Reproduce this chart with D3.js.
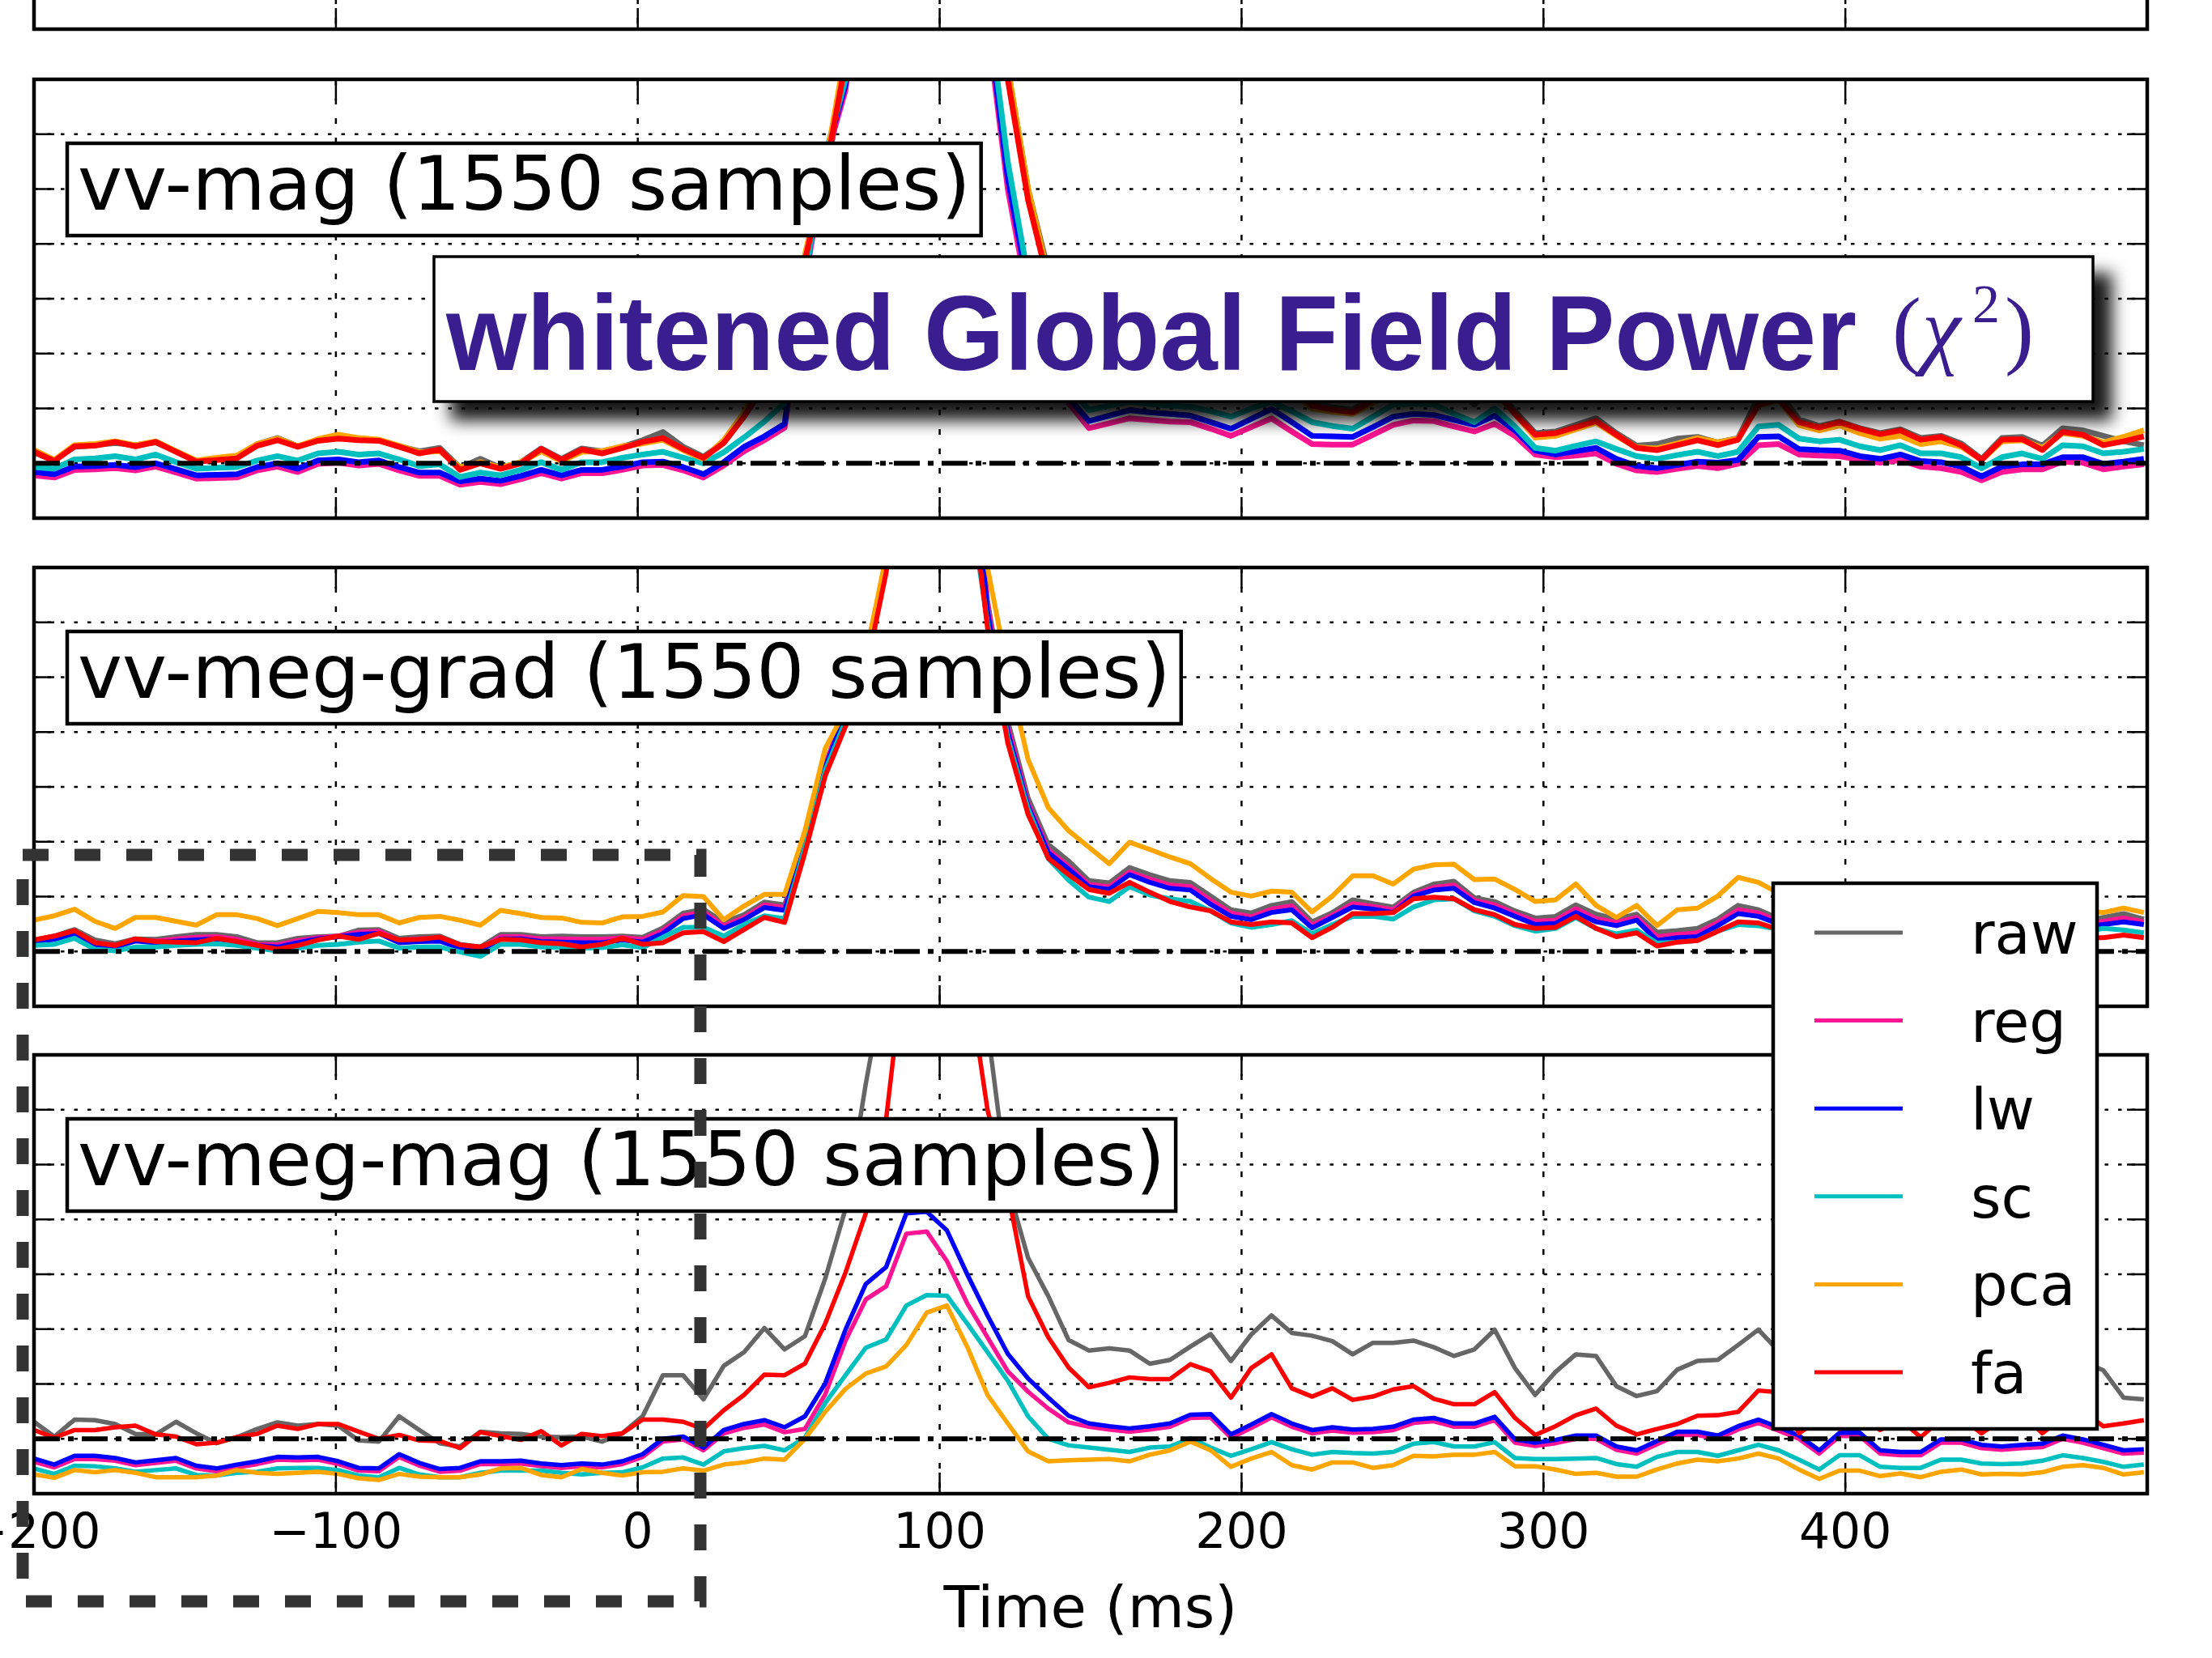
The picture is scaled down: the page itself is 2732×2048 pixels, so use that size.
<!DOCTYPE html>
<html>
<head>
<meta charset="utf-8">
<script src="https://cdn.jsdelivr.net/npm/d3@7"></script>
<style>
  html, body { margin: 0; padding: 0; background: #fff; }
  svg { display: block; }
</style>
</head>
<body>
<div id="chart"></div>
<script>
var width = 2732;
var height = 2048;

// sampling grid of the evoked data (ms)
var times = d3.range(105).map(function (k) { return -200 + k * 6.72; });

var methods = ["raw", "reg", "lw", "sc", "pca", "fa"];
var methodColors = ["#666666", "#ff1493", "#0000ff", "#00bfbf", "#ffa500", "#ff0000"];
var xTicks = [-200, -100, 0, 100, 200, 300, 400];
var xTickLabels = ["\u2212200", "\u2212100", "0", "100", "200", "300", "400"];
var yTicks = [0, 1, 2, 3, 4, 5, 6, 7, 8];
var panelNames = ["vv-mag (1550 samples)", "vv-meg-grad (1550 samples)", "vv-meg-mag (1550 samples)"];
var titleText = "whitened Global Field Power";

// vv-mag
var magRaw = [1.20,1.05,1.30,1.33,1.37,1.33,1.38,1.22,1.04,1.07, 1.10,1.35,1.46,1.31,1.42,1.46,1.43,1.42,1.31,1.22,
  1.28,0.92,1.08,0.92,1.02,1.27,1.08,1.27,1.22,1.30, 1.42,1.57,1.30,1.12,1.38,1.85,2.4,3.3,4.6,6.2,
  8.2,11,14,17,19,19,17,10.8,8.2,6.0, 4.5,3.4,2.55,2.65,2.75,2.7,2.65,2.65,2.5,2.4,
  2.55,2.7,2.4,2.1,2.02,1.98,2.2,2.4,2.5,2.5, 2.4,2.07,2.4,1.95,1.55,1.58,1.70,1.82,1.55,1.32,
  1.35,1.45,1.48,1.38,1.46,2.2,2.3,1.8,1.68,1.76, 1.64,1.55,1.62,1.46,1.50,1.36,1.08,1.46,1.48,1.32,
  1.64,1.60,1.50,1.40,1.33];
var magReg = [0.78,0.74,0.88,0.89,0.91,0.87,0.94,0.83,0.72,0.73, 0.74,0.87,0.94,0.84,0.99,1.01,0.96,0.99,0.87,0.77,
  0.77,0.61,0.66,0.62,0.71,0.82,0.72,0.82,0.82,0.88, 0.96,0.97,0.87,0.74,0.96,1.22,1.42,1.65,4.3,6.5,
  7.8,11,14,17,19,19,17,9.0,6.0,4.0, 2.9,2.1,1.64,1.73,1.82,1.79,1.76,1.75,1.63,1.50,
  1.66,1.82,1.58,1.35,1.34,1.34,1.52,1.70,1.78,1.77, 1.67,1.58,1.72,1.50,1.16,1.11,1.14,1.18,0.99,0.87,
  0.84,0.90,0.95,0.91,0.99,1.33,1.35,1.16,1.14,1.13, 1.06,1.01,1.06,0.94,0.91,0.84,0.69,0.84,0.89,0.89,
  1.03,1.01,0.89,0.94,0.98];
var magLw = [0.84,0.80,0.94,0.95,0.97,0.93,1.00,0.89,0.78,0.79, 0.80,0.93,1.00,0.90,1.05,1.07,1.02,1.05,0.93,0.83,
  0.83,0.67,0.72,0.68,0.77,0.88,0.78,0.88,0.88,0.94, 1.02,1.03,0.93,0.80,1.02,1.30,1.49,1.72,4.4,6.6,
  7.9,11,14,17,19,19,17,9.2,6.2,4.2, 3.0,2.2,1.77,1.87,1.97,1.93,1.90,1.87,1.75,1.63,
  1.81,1.99,1.75,1.50,1.49,1.48,1.66,1.85,1.90,1.88, 1.79,1.70,1.87,1.60,1.23,1.16,1.22,1.28,1.08,0.95,
  0.91,0.97,1.03,1.01,1.06,1.48,1.49,1.26,1.24,1.23, 1.13,1.08,1.16,1.04,1.02,0.94,0.76,0.94,0.98,0.98,
  1.11,1.11,0.99,1.03,1.08];
var magSc = [0.93,0.90,1.07,1.09,1.13,1.07,1.16,1.02,0.90,0.92, 0.93,1.05,1.13,1.05,1.18,1.21,1.16,1.18,1.07,0.95,
  0.98,0.75,0.83,0.78,0.88,1.02,0.88,1.02,1.02,1.10, 1.16,1.21,1.10,1.00,1.20,1.47,1.76,2.1,4.4,6.6,
  8.0,11,14,17,19,19,17,9.4,6.5,4.4, 3.2,2.4,1.97,2.05,2.12,2.08,2.05,2.03,1.95,1.85,
  2.0,2.12,1.95,1.75,1.68,1.63,1.85,2.07,2.09,2.07, 1.9,1.75,2.0,1.67,1.28,1.23,1.32,1.40,1.26,1.13,
  1.08,1.15,1.21,1.13,1.21,1.67,1.70,1.45,1.40,1.43, 1.31,1.24,1.33,1.18,1.18,1.11,0.91,1.11,1.18,1.08,
  1.33,1.31,1.18,1.21,1.26];
var magPca = [1.24,1.06,1.33,1.35,1.40,1.33,1.40,1.22,1.05,1.10, 1.14,1.35,1.45,1.31,1.44,1.52,1.46,1.43,1.32,1.20,
  1.22,0.92,1.02,0.92,1.02,1.22,1.04,1.21,1.22,1.31, 1.36,1.43,1.24,1.08,1.42,1.92,2.55,3.5,4.8,6.4,
  8.5,11,14,17,19,19,17,11,8.2,6.0, 4.4,3.3,2.55,2.6,2.7,2.65,2.6,2.6,2.45,2.35,
  2.5,2.6,2.3,2.0,1.94,1.90,2.1,2.3,2.4,2.4, 2.3,2.15,2.3,1.9,1.47,1.50,1.62,1.74,1.50,1.29,
  1.27,1.36,1.46,1.38,1.45,2.05,2.15,1.70,1.60,1.69, 1.55,1.45,1.50,1.35,1.40,1.30,1.06,1.40,1.42,1.28,
  1.55,1.50,1.38,1.48,1.60];
var magFa = [1.21,1.04,1.31,1.32,1.39,1.31,1.39,1.21,1.03,1.06, 1.09,1.32,1.42,1.30,1.41,1.45,1.42,1.41,1.30,1.18,
  1.25,0.88,1.00,0.90,1.00,1.26,1.06,1.25,1.18,1.28, 1.39,1.46,1.26,1.10,1.37,1.85,2.45,3.4,4.7,6.3,
  8.3,11,14,17,19,19,17,10.5,8.0,5.8, 4.3,3.2,2.5,2.6,2.7,2.65,2.6,2.6,2.45,2.35,
  2.5,2.65,2.35,2.05,1.98,1.93,2.15,2.35,2.45,2.45, 2.35,2.2,2.35,1.9,1.52,1.55,1.66,1.77,1.52,1.28,
  1.24,1.33,1.42,1.33,1.43,2.07,2.17,1.75,1.65,1.75, 1.63,1.53,1.60,1.43,1.48,1.33,1.06,1.43,1.44,1.24,
  1.57,1.52,1.33,1.40,1.49];

// vv-meg-grad
var gradRaw = [1.21,1.28,1.40,1.21,1.14,1.23,1.22,1.27,1.31,1.31, 1.27,1.16,1.16,1.24,1.27,1.28,1.39,1.40,1.24,1.27,
  1.28,1.13,1.08,1.31,1.31,1.27,1.28,1.27,1.27,1.28, 1.26,1.43,1.70,1.77,1.53,1.67,1.90,1.85,3.0,4.4,
  5.4,6.4,8.1,11,14,16,12,7.4,5.2,3.8, 2.95,2.65,2.29,2.25,2.53,2.40,2.29,2.26,2.01,1.76,
  1.70,1.84,1.91,1.54,1.71,1.94,1.87,1.81,2.08,2.23, 2.28,1.98,1.91,1.74,1.61,1.64,1.85,1.68,1.59,1.68,
  1.35,1.38,1.42,1.59,1.84,1.76,1.60,1.50,1.45,1.50, 1.45,1.48,1.55,1.45,1.40,1.52,1.50,1.45,1.55,1.60,
  1.58,1.55,1.62,1.69,1.59];
var gradReg = [1.18,1.25,1.36,1.16,1.11,1.21,1.19,1.23,1.26,1.27, 1.22,1.13,1.12,1.20,1.25,1.28,1.35,1.37,1.20,1.23,
  1.24,1.10,1.05,1.27,1.27,1.23,1.23,1.22,1.22,1.25, 1.22,1.38,1.65,1.72,1.47,1.62,1.85,1.80,3.0,4.4,
  5.4,6.4,8.1,11,14,16,11.5,7.3,5.1,3.7, 2.85,2.55,2.22,2.18,2.45,2.32,2.21,2.18,1.93,1.70,
  1.63,1.77,1.83,1.48,1.66,1.87,1.82,1.76,2.04,2.17, 2.21,1.93,1.85,1.69,1.55,1.57,1.78,1.60,1.53,1.62,
  1.27,1.31,1.34,1.53,1.76,1.70,1.55,1.45,1.40,1.45, 1.40,1.43,1.50,1.40,1.35,1.47,1.45,1.40,1.50,1.55,
  1.53,1.50,1.55,1.61,1.54];
var gradLw = [1.16,1.22,1.31,1.11,1.08,1.19,1.16,1.19,1.21,1.23, 1.17,1.11,1.08,1.16,1.23,1.27,1.31,1.33,1.16,1.18,
  1.19,1.06,1.01,1.23,1.23,1.18,1.17,1.16,1.16,1.21, 1.17,1.33,1.60,1.67,1.42,1.58,1.80,1.75,2.95,4.35,
  5.35,6.35,8.0,11,14,16,11.2,7.2,5.0,3.65, 2.8,2.5,2.18,2.13,2.40,2.26,2.15,2.12,1.86,1.64,
  1.58,1.71,1.76,1.43,1.62,1.81,1.77,1.71,2.01,2.12, 2.15,1.89,1.79,1.64,1.49,1.51,1.71,1.54,1.47,1.57,
  1.20,1.25,1.27,1.47,1.69,1.64,1.50,1.40,1.35,1.40, 1.35,1.38,1.45,1.35,1.30,1.42,1.40,1.35,1.45,1.50,
  1.48,1.45,1.49,1.54,1.49];
var gradSc = [1.11,1.13,1.24,1.04,1.01,1.08,1.08,1.11,1.13,1.14, 1.11,1.06,1.01,1.06,1.11,1.13,1.17,1.19,1.06,1.08,
  1.08,0.99,0.91,1.13,1.13,1.08,1.07,1.06,1.07,1.12, 1.07,1.26,1.44,1.44,1.28,1.49,1.65,1.60,2.9,4.3,
  5.2,6.3,8.0,11,14,15,9.5,7.0,4.9,3.6, 2.69,2.3,1.99,1.91,2.18,2.03,1.96,1.91,1.74,1.52,
  1.44,1.49,1.56,1.32,1.49,1.64,1.64,1.59,1.81,1.94, 1.96,1.74,1.64,1.47,1.37,1.42,1.62,1.42,1.32,1.39,
  1.15,1.17,1.20,1.37,1.49,1.47,1.40,1.30,1.25,1.30, 1.25,1.28,1.35,1.25,1.20,1.32,1.30,1.25,1.35,1.40,
  1.38,1.35,1.42,1.39,1.34];
var gradPca = [1.57,1.65,1.77,1.55,1.42,1.62,1.62,1.55,1.48,1.67, 1.67,1.60,1.47,1.60,1.73,1.71,1.67,1.67,1.52,1.62,
  1.64,1.57,1.48,1.75,1.69,1.62,1.61,1.53,1.52,1.63, 1.64,1.72,2.02,2.00,1.58,1.83,2.04,2.04,3.2,4.7,
  5.4,6.4,8.2,11,15,18,13,8.0,6.1,4.5, 3.62,3.2,2.9,2.6,2.99,2.86,2.72,2.60,2.33,2.08,
  2.01,2.10,2.08,1.72,2.01,2.38,2.38,2.23,2.50,2.58, 2.59,2.31,2.32,2.13,1.91,1.94,2.23,1.84,1.62,1.84,
  1.47,1.76,1.79,2.01,2.35,2.26,2.06,1.85,1.75,1.80, 1.70,1.75,1.82,1.70,1.65,1.78,1.75,1.70,1.80,1.85,
  1.80,1.75,1.71,1.79,1.71];
var gradFa = [1.21,1.28,1.38,1.16,1.11,1.23,1.18,1.17,1.16,1.24, 1.18,1.11,1.04,1.11,1.21,1.28,1.22,1.33,1.21,1.22,
  1.26,1.12,1.08,1.22,1.21,1.16,1.14,1.08,1.13,1.24, 1.13,1.16,1.34,1.36,1.18,1.40,1.62,1.53,2.8,4.2,
  5.1,6.1,7.9,10.5,13.5,15,10,6.9,4.8,3.5, 2.7,2.4,2.13,2.06,2.26,2.08,1.91,1.81,1.74,1.54,
  1.49,1.54,1.52,1.25,1.44,1.69,1.69,1.71,1.96,1.99, 1.96,1.76,1.67,1.49,1.42,1.44,1.64,1.42,1.27,1.34,
  1.10,1.17,1.20,1.37,1.54,1.52,1.40,1.30,1.25,1.30, 1.22,1.20,1.28,1.20,1.15,1.25,1.22,1.18,1.25,1.30,
  1.28,1.25,1.25,1.30,1.25];

// vv-meg-mag
var megmagRaw = [1.31,1.04,1.35,1.34,1.27,1.09,1.08,1.31,1.10,0.92, 1.03,1.18,1.30,1.24,1.27,1.24,0.97,0.95,1.41,1.16,
  0.92,0.86,1.13,1.10,1.09,1.04,1.03,1.04,0.95,1.10, 1.41,2.16,2.16,1.72,2.33,2.58,3.02,2.63,2.87,3.92,
  5.19,7.47,9.5,12,14,14,12,8.5,5.6,4.3, 3.6,2.8,2.61,2.65,2.61,2.37,2.44,2.68,2.91,2.42,
  2.90,3.25,2.93,2.88,2.78,2.54,2.75,2.75,2.79,2.67, 2.51,2.63,2.99,2.29,1.80,2.22,2.54,2.51,1.96,1.78,
  1.87,2.26,2.42,2.44,2.71,2.99,2.6,2.3,2.2,2.4, 2.5,2.3,2.2,2.5,2.4,2.6,2.3,2.2,2.5,2.6,
  2.5,2.4,2.25,1.75,1.72];
var megmagReg = [0.58,0.48,0.63,0.63,0.60,0.52,0.56,0.60,0.46,0.41, 0.48,0.54,0.62,0.61,0.62,0.54,0.42,0.41,0.67,0.51,
  0.40,0.42,0.54,0.54,0.55,0.50,0.47,0.50,0.48,0.54, 0.67,0.95,0.99,0.79,1.10,1.20,1.26,1.12,1.18,1.81,
  2.79,3.54,3.78,4.74,4.78,4.24,3.47,2.85,2.23,1.86, 1.55,1.30,1.22,1.17,1.13,1.17,1.22,1.38,1.39,1.02,
  1.20,1.39,1.22,1.10,1.15,1.11,1.12,1.16,1.29,1.32, 1.22,1.22,1.34,0.93,0.87,0.92,1.00,1.00,0.80,0.73,
  0.90,1.07,1.07,1.00,1.17,1.29,1.15,1.00,0.73,1.05, 1.05,0.73,0.70,0.70,0.93,0.93,0.83,0.80,0.83,0.85,
  1.00,0.93,0.83,0.73,0.75];
var megmagLw = [0.64,0.53,0.69,0.69,0.65,0.57,0.61,0.65,0.51,0.46, 0.53,0.59,0.67,0.66,0.67,0.59,0.47,0.46,0.72,0.56,
  0.45,0.47,0.59,0.59,0.60,0.55,0.52,0.55,0.53,0.59, 0.72,1.00,1.04,0.84,1.16,1.27,1.34,1.21,1.41,2.01,
  2.99,3.82,4.13,5.11,5.14,4.8,4.0,3.25,2.55,2.1, 1.75,1.42,1.28,1.23,1.19,1.23,1.28,1.44,1.45,1.08,
  1.26,1.45,1.28,1.16,1.21,1.17,1.18,1.22,1.35,1.38, 1.28,1.28,1.40,0.99,0.93,0.98,1.06,1.06,0.86,0.79,
  0.96,1.13,1.13,1.06,1.23,1.35,1.21,1.06,0.79,1.11, 1.11,0.79,0.76,0.76,0.99,0.99,0.89,0.86,0.89,0.91,
  1.06,0.99,0.89,0.79,0.81];
var megmagSc = [0.46,0.36,0.51,0.50,0.46,0.40,0.43,0.46,0.34,0.33, 0.38,0.40,0.46,0.47,0.47,0.43,0.33,0.30,0.47,0.35,
  0.30,0.30,0.38,0.42,0.42,0.42,0.38,0.35,0.38,0.39, 0.48,0.64,0.66,0.53,0.77,0.83,0.87,0.79,1.02,1.65,
  2.16,2.66,2.81,3.43,3.62,3.61,3.10,2.58,2.06,1.41, 1.0,0.88,0.84,0.80,0.76,0.84,0.86,1.01,0.84,0.69,
  0.81,0.94,0.81,0.71,0.76,0.74,0.73,0.76,0.91,0.94, 0.86,0.86,0.94,0.65,0.63,0.63,0.64,0.65,0.54,0.49,
  0.67,0.76,0.76,0.69,0.79,0.89,0.79,0.62,0.44,0.70, 0.70,0.49,0.47,0.47,0.62,0.62,0.55,0.54,0.55,0.60,
  0.70,0.65,0.58,0.49,0.53];
var megmagPca = [0.35,0.29,0.43,0.39,0.43,0.38,0.30,0.30,0.30,0.33, 0.43,0.38,0.36,0.38,0.40,0.36,0.28,0.25,0.36,0.31,
  0.30,0.30,0.35,0.46,0.47,0.34,0.30,0.45,0.38,0.33, 0.39,0.40,0.46,0.42,0.53,0.57,0.64,0.62,1.00,1.49,
  1.91,2.19,2.32,2.71,3.30,3.43,2.68,1.80,1.28,0.77, 0.59,0.61,0.62,0.63,0.59,0.71,0.79,0.95,0.79,0.49,
  0.64,0.76,0.52,0.44,0.57,0.57,0.47,0.52,0.69,0.68, 0.71,0.71,0.76,0.50,0.50,0.44,0.36,0.38,0.31,0.31,
  0.44,0.55,0.62,0.59,0.64,0.73,0.64,0.44,0.27,0.42, 0.42,0.32,0.37,0.30,0.40,0.44,0.35,0.36,0.35,0.39,
  0.49,0.52,0.47,0.35,0.39];
var megmagFa = [1.16,1.02,1.16,1.16,1.21,1.24,1.08,1.04,0.90,0.93, 1.03,1.09,1.24,1.18,1.27,1.27,1.13,1.00,1.07,0.97,
  0.96,0.83,1.12,1.05,0.98,1.14,0.88,1.09,1.05,1.10, 1.35,1.35,1.31,1.18,1.52,1.80,2.17,2.16,2.37,3.10,
  4.03,5.11,6.82,10,13,13,9.5,7.0,5.5,3.6, 2.85,2.3,1.94,2.02,2.12,2.09,2.09,2.36,2.23,1.75,
  2.29,2.54,1.92,1.77,1.92,1.71,1.77,1.90,1.96,1.73, 1.63,1.63,1.85,1.38,1.07,1.23,1.43,1.55,1.24,1.08,
  1.18,1.27,1.42,1.43,1.49,1.88,1.85,1.10,1.35,1.18, 1.40,1.16,1.35,1.03,1.35,1.38,1.10,1.35,1.45,1.10,
  1.40,1.50,1.23,1.28,1.34];

var panelSeries = [
  null,
  [magRaw, magReg, magLw, magSc, magPca, magFa],
  [gradRaw, gradReg, gradLw, gradSc, gradPca, gradFa],
  [megmagRaw, megmagReg, megmagLw, megmagSc, megmagPca, megmagFa]
];

// layout
var left = 42, right = 2652;
var panelTops = [-506, 98, 701, 1303];
var panelH = 542;
var lineWidths = [5, 7, 6, 5.5];
var font = "DejaVu Sans, sans-serif";

var svg = d3.select("#chart").append("svg")
  .attr("width", width)
  .attr("height", height)
  .attr("viewBox", "0 0 " + width + " " + height);

svg.append("rect").attr("width", width).attr("height", height).attr("fill", "#fff");

var defs = svg.append("defs");
var shadow = defs.append("filter").attr("id", "shadow")
  .attr("x", "-10%").attr("y", "-30%").attr("width", "120%").attr("height", "170%");
shadow.append("feDropShadow")
  .attr("dx", 22).attr("dy", 22).attr("stdDeviation", 10)
  .attr("flood-color", "#000").attr("flood-opacity", 0.9);

var x = d3.scaleLinear().domain([-200, 500]).range([left, right]);

var draw_panel = function (p) {
  var top = panelTops[p];
  var bottom = top + panelH;
  var y = d3.scaleLinear().domain([0, 8]).range([bottom, top]);
  var g = svg.append("g");

  defs.append("clipPath").attr("id", "clip" + p)
    .append("rect").attr("x", left).attr("y", top)
    .attr("width", right - left).attr("height", panelH);

  // grid
  g.selectAll(".hgrid").data(yTicks.slice(1, -1)).enter().append("line")
    .attr("x1", left).attr("x2", right)
    .attr("y1", function (d) { return y(d); })
    .attr("y2", function (d) { return y(d); })
    .attr("stroke", "#000").attr("stroke-width", 2.5)
    .attr("stroke-dasharray", "4.5,12");
  g.selectAll(".vgrid").data(xTicks.slice(1)).enter().append("line")
    .attr("y1", top).attr("y2", bottom)
    .attr("x1", function (d) { return x(d); })
    .attr("x2", function (d) { return x(d); })
    .attr("stroke", "#000").attr("stroke-width", 2.5)
    .attr("stroke-dasharray", "7,17");

  // curves
  var series = panelSeries[p];
  if (series) {
    var line = d3.line()
      .x(function (d, i) { return x(times[i]); })
      .y(function (d) { return y(d); });
    g.append("g").attr("clip-path", "url(#clip" + p + ")")
      .selectAll("path").data(series).enter().append("path")
      .attr("d", line)
      .attr("fill", "none")
      .attr("stroke", function (d, i) { return methodColors[i]; })
      .attr("stroke-width", lineWidths[p])
      .attr("stroke-linejoin", "round");
  }

  // chi2 expectation
  g.append("line")
    .attr("x1", left).attr("x2", right)
    .attr("y1", y(1)).attr("y2", y(1))
    .attr("stroke", "#000").attr("stroke-width", 6)
    .attr("stroke-dasharray", "32,10,7,10");

  // ticks
  g.selectAll(".xtb").data(xTicks.slice(1)).enter().append("line")
    .attr("x1", function (d) { return x(d); }).attr("x2", function (d) { return x(d); })
    .attr("y1", bottom).attr("y2", bottom - 26)
    .attr("stroke", "#000").attr("stroke-width", 2.5);
  g.selectAll(".xtt").data(xTicks.slice(1)).enter().append("line")
    .attr("x1", function (d) { return x(d); }).attr("x2", function (d) { return x(d); })
    .attr("y1", top).attr("y2", top + 26)
    .attr("stroke", "#000").attr("stroke-width", 2.5);
  g.selectAll(".ytl").data(yTicks).enter().append("line")
    .attr("x1", left).attr("x2", left + 25)
    .attr("y1", function (d) { return y(d); }).attr("y2", function (d) { return y(d); })
    .attr("stroke", "#000").attr("stroke-width", 2.5);
  g.selectAll(".ytr").data(yTicks).enter().append("line")
    .attr("x1", right).attr("x2", right - 25)
    .attr("y1", function (d) { return y(d); }).attr("y2", function (d) { return y(d); })
    .attr("stroke", "#000").attr("stroke-width", 2.5);

  // frame
  g.append("rect")
    .attr("x", left).attr("y", top)
    .attr("width", right - left).attr("height", panelH)
    .attr("fill", "none").attr("stroke", "#000").attr("stroke-width", 4.5);

  // label box
  if (p > 0) {
    var lab = g.append("g");
    var box = lab.append("rect")
      .attr("x", 83).attr("y", top + 79).attr("height", 114)
      .attr("fill", "#fff").attr("stroke", "#000").attr("stroke-width", 4.5);
    var txt = lab.append("text")
      .attr("x", 96).attr("y", top + 161)
      .style("font-family", font).style("font-size", "93px")
      .text(panelNames[p - 1]);
    box.attr("width", txt.node().getComputedTextLength() + 26);
  }
};

[0, 1, 2, 3].forEach(draw_panel);

// x tick labels and axis label
var bottomAxis = panelTops[3] + panelH;
svg.selectAll(".xlab").data(xTicks).enter().append("text")
  .attr("x", function (d) { return x(d); })
  .attr("y", bottomAxis + 67)
  .attr("text-anchor", "middle")
  .style("font-family", font).style("font-size", "60px")
  .text(function (d, i) { return xTickLabels[i]; });
svg.append("text")
  .attr("x", (left + right) / 2).attr("y", 2010)
  .attr("text-anchor", "middle")
  .style("font-family", font).style("font-size", "72px")
  .text("Time (ms)");

// legend
var legend = svg.append("g");
legend.append("rect")
  .attr("x", 2190).attr("y", 1091).attr("width", 400).attr("height", 674)
  .attr("fill", "#fff").attr("stroke", "#000").attr("stroke-width", 4.5);
var items = legend.selectAll(".item").data(methods).enter().append("g")
  .attr("transform", function (d, i) { return "translate(0," + (1152 + i * 108.6) + ")"; });
items.append("line")
  .attr("x1", 2241).attr("x2", 2350)
  .attr("stroke", function (d, i) { return methodColors[i]; })
  .attr("stroke-width", 5);
items.append("text")
  .attr("x", 2434).attr("y", 26)
  .style("font-family", font).style("font-size", "72px")
  .text(function (d) { return d; });

// title box
var purple = "#3a1e8f";
var title = svg.append("g");
title.append("rect")
  .attr("x", 536).attr("y", 317).attr("width", 2049).attr("height", 179)
  .attr("fill", "#fff").attr("stroke", "#000").attr("stroke-width", 3.5)
  .attr("filter", "url(#shadow)");
title.append("text")
  .attr("x", 551).attr("y", 457)
  .attr("textLength", 1742).attr("lengthAdjust", "spacingAndGlyphs")
  .style("font-family", "Liberation Sans, Arial, sans-serif")
  .style("font-weight", "bold").style("font-size", "131px")
  .attr("fill", purple)
  .text(titleText);
var math = title.append("text")
  .style("font-family", "Liberation Serif, Times New Roman, serif")
  .attr("fill", purple);
math.append("tspan").attr("x", 2337).attr("y", 442).style("font-size", "108px").text("(");
math.append("tspan").attr("x", 2374).attr("y", 442).style("font-size", "108px")
  .style("font-style", "italic").text("\u03c7");
math.append("tspan").attr("x", 2436).attr("y", 398).style("font-size", "68px").text("2");
math.append("tspan").attr("x", 2476).attr("y", 442).style("font-size", "108px").text(")");

// highlight of the baseline window
svg.append("rect")
  .attr("x", 28).attr("y", 1056).attr("width", 837).attr("height", 922)
  .attr("fill", "none").attr("stroke", "#333333").attr("stroke-width", 15)
  .attr("stroke-dasharray", "32,32");
</script>
</body>
</html>
